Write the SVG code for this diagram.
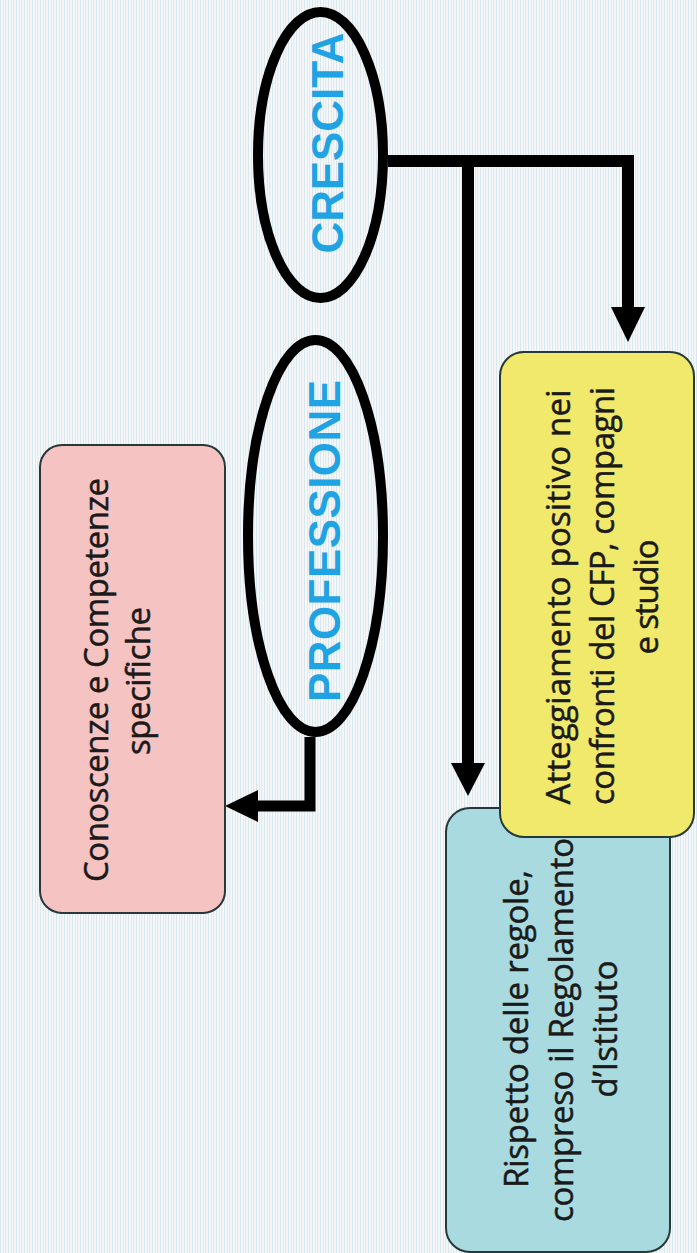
<svg xmlns="http://www.w3.org/2000/svg" width="697" height="1253" viewBox="0 0 697 1253">
  <defs>
    <!-- soft vertical pinstripe backdrop -->
    <pattern id="stripes" width="8" height="8" patternUnits="userSpaceOnUse">
      <rect width="8" height="8" fill="#f6f8f9"/>
      <rect x="0" width="1" height="8" fill="#d8e6ed"/>
      <rect x="3" width="1" height="8" fill="#f2e1dd"/>
      <rect x="5" width="1.5" height="8" fill="#e3edf2"/>
    </pattern>
    <style>
      .oval { fill: none; stroke: #000; stroke-width: 10; }
      .title { font-family: "Liberation Sans", Arial, sans-serif; font-weight: bold; font-size: 44px; fill: #1fa3e3; text-anchor: middle; }
      .box { stroke: #263838; stroke-width: 2; }
      .label { font-family: "Open Sans", Lato, sans-serif; font-size: 33px; fill: #1a1a1a; stroke: #1a1a1a; stroke-width: 0.5; text-anchor: middle; font-variant-ligatures: none; }
      .wire { fill: none; stroke: #000; stroke-width: 12; stroke-linejoin: miter; }
      .head { fill: #000; }
    </style>
  </defs>

  <rect width="697" height="1253" fill="url(#stripes)"/>

  <!-- connectors -->
  <g id="connectors">
    <path class="wire" d="M388 161 H628 V308"/>
    <path class="wire" d="M468 161 V764"/>
    <polygon class="head" points="611,307 645,307 628,342"/>
    <polygon class="head" points="451,763 485,763 468,796"/>
    <path class="wire" style="stroke-width:11" d="M310 737 V806 H257"/>
    <polygon class="head" points="258,790 258,822 225,806"/>
  </g>

  <!-- oval: CRESCITA -->
  <g id="node-crescita">
    <ellipse class="oval" cx="320.5" cy="155" rx="62.5" ry="143"/>
    <text class="title" transform="translate(343,143) rotate(-90)" textLength="221">CRESCITA</text>
  </g>

  <!-- oval: PROFESSIONE -->
  <g id="node-professione">
    <ellipse class="oval" cx="315.5" cy="536" rx="67.5" ry="196"/>
    <text class="title" transform="translate(340,541) rotate(-90)" textLength="322">PROFESSIONE</text>
  </g>

  <!-- pink box -->
  <g id="node-conoscenze">
    <rect class="box" x="40" y="445" width="185" height="468" rx="22" fill="#f6c3c3"/>
    <text class="label" transform="translate(108,680) rotate(-90)" textLength="404">Conoscenze e Competenze</text>
    <text class="label" transform="translate(150,681) rotate(-90)" textLength="148">specifiche</text>
  </g>

  <!-- teal box (sits beneath the yellow one) -->
  <g id="node-rispetto">
    <rect class="box" x="446" y="808" width="224" height="444" rx="24" fill="#a9dadf"/>
    <text class="label" transform="translate(528,1029) rotate(-90)" textLength="318">Rispetto delle regole,</text>
    <text class="label" transform="translate(573,1030) rotate(-90)" textLength="384">compreso il Regolamento</text>
    <text class="label" transform="translate(617,1029) rotate(-90)" textLength="137">d’Istituto</text>
  </g>

  <!-- yellow box -->
  <g id="node-atteggiamento">
    <rect class="box" x="500" y="352" width="194" height="485" rx="24" fill="#f1e96b"/>
    <text class="label" transform="translate(570,597) rotate(-90)" textLength="415">Atteggiamento positivo nei</text>
    <text class="label" transform="translate(614,596) rotate(-90)" textLength="418">confronti del CFP, compagni</text>
    <text class="label" transform="translate(658,597) rotate(-90)" textLength="115">e studio</text>
  </g>
</svg>
